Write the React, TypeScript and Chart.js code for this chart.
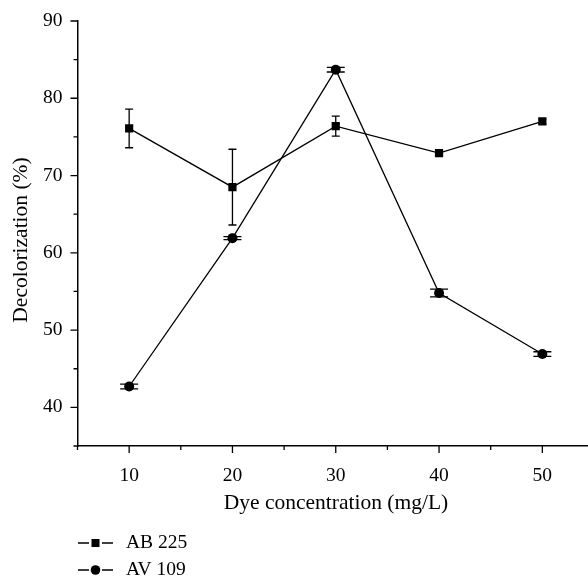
import React, { useEffect, useRef } from "react";
import { Chart, registerables } from "chart.js";

Chart.register(...registerables);

const X_VALUES = [10, 20, 30, 40, 50];
const AB225 = [76.1, 68.5, 76.4, 72.9, 77.0];
const AB225_ERR = [2.5, 4.9, 1.3, 0.3, 0.3];
const AV109 = [42.7, 61.9, 83.7, 54.8, 46.9];
const AV109_ERR = [0.3, 0.2, 0.3, 0.5, 0.3];
const X_TICKS = [10, 20, 30, 40, 50];
const X_MINOR = [5, 15, 25, 35, 45, 55];
const Y_TICKS = [40, 50, 60, 70, 80, 90];
const Y_MINOR = [35, 45, 55, 65, 75, 85];
const X_TITLE = "Dye concentration (mg/L)";
const Y_TITLE = "Decolorization (%)";
const SERIES_LABELS = ["AB 225", "AV 109"];

const FONT = "'Liberation Serif', 'Times New Roman', serif";

const decorPlugin = {
  id: "decor",
  beforeDatasetsDraw(chart: any) {
    const ctx = chart.ctx;
    const xs = chart.scales.x;
    const ys = chart.scales.y;
    const errs = [AB225_ERR, AV109_ERR];
    const caps = [4, 9];
    ctx.save();
    ctx.strokeStyle = "#000";
    ctx.lineWidth = 1.3;
    chart.data.datasets.forEach((ds: any, di: number) => {
      ds.data.forEach((p: any, i: number) => {
        const e = errs[di][i];
        const px = xs.getPixelForValue(p.x);
        const top = ys.getPixelForValue(p.y + e);
        const bot = ys.getPixelForValue(p.y - e);
        const c = caps[di];
        ctx.beginPath();
        ctx.moveTo(px, top);
        ctx.lineTo(px, bot);
        ctx.moveTo(px - c, top);
        ctx.lineTo(px + c, top);
        ctx.moveTo(px - c, bot);
        ctx.lineTo(px + c, bot);
        ctx.stroke();
      });
    });
    ctx.restore();
  },
  afterDraw(chart: any) {
    const ctx = chart.ctx;
    const xs = chart.scales.x;
    const ys = chart.scales.y;
    const area = chart.chartArea;
    ctx.save();
    ctx.strokeStyle = "#000";
    ctx.lineWidth = 1.3;
    ctx.beginPath();
    X_TICKS.forEach((v) => {
      const px = xs.getPixelForValue(v);
      ctx.moveTo(px, area.bottom);
      ctx.lineTo(px, area.bottom + 7);
    });
    X_MINOR.forEach((v) => {
      const px = xs.getPixelForValue(v);
      ctx.moveTo(px, area.bottom);
      ctx.lineTo(px, area.bottom + 4);
    });
    Y_TICKS.forEach((v) => {
      const py = ys.getPixelForValue(v);
      ctx.moveTo(area.left, py);
      ctx.lineTo(area.left - 7, py);
    });
    Y_MINOR.forEach((v) => {
      const py = ys.getPixelForValue(v);
      ctx.moveTo(area.left, py);
      ctx.lineTo(area.left - 4, py);
    });
    ctx.stroke();

    // axis titles
    ctx.fillStyle = "#000";
    ctx.font = `21.5px ${FONT}`;
    ctx.textAlign = "center";
    ctx.textBaseline = "middle";
    ctx.fillText(X_TITLE, 336, 503);
    ctx.save();
    ctx.translate(21, 240);
    ctx.rotate(-Math.PI / 2);
    ctx.fillText(Y_TITLE, 0, 0);
    ctx.restore();

    // legend
    const rows = [543, 570];
    chart.data.datasets.forEach((ds: any, i: number) => {
      const y = rows[i];
      ctx.beginPath();
      ctx.lineWidth = 1.3;
      ctx.moveTo(78, y);
      ctx.lineTo(89, y);
      ctx.moveTo(102, y);
      ctx.lineTo(113, y);
      ctx.stroke();
      ctx.fillStyle = "#000";
      if (i === 0) {
        ctx.fillRect(95.5 - 4, y - 4, 8, 8);
      } else {
        ctx.beginPath();
        ctx.arc(95.5, y, 4.8, 0, Math.PI * 2);
        ctx.fill();
      }
      ctx.font = `19.5px ${FONT}`;
      ctx.textAlign = "left";
      ctx.textBaseline = "middle";
      ctx.fillText(ds.label, 126, y);
    });
    ctx.restore();
  },
};

export default function App() {
  const ref = useRef<HTMLCanvasElement>(null);
  useEffect(() => {
    if (!ref.current) return;
    const chart = new Chart(ref.current, {
      type: "line",
      data: {
        datasets: [
          {
            label: SERIES_LABELS[0],
            data: X_VALUES.map((x, i) => ({ x, y: AB225[i] })),
            borderColor: "#000",
            backgroundColor: "#000",
            borderWidth: 1.3,
            pointStyle: "rect",
            pointRadius: 5.8,
            pointBorderWidth: 0,
            tension: 0,
          },
          {
            label: SERIES_LABELS[1],
            data: X_VALUES.map((x, i) => ({ x, y: AV109[i] })),
            borderColor: "#000",
            backgroundColor: "#000",
            borderWidth: 1.3,
            pointStyle: "circle",
            pointRadius: 5,
            pointBorderWidth: 0,
            tension: 0,
          },
        ],
      },
      options: {
        animation: false,
        responsive: false,
        layout: { padding: { left: 0, right: 6, top: 21, bottom: 0 } },
        plugins: {
          legend: { display: false },
          tooltip: { enabled: false },
        },
        scales: {
          x: {
            type: "linear",
            min: 5,
            max: 55,
            afterBuildTicks: (s: any) => {
              s.ticks = X_TICKS.map((v) => ({ value: v }));
            },
            afterFit: (s: any) => {
              s.height = 132;
            },
            grid: { display: false },
            border: { display: true, color: "#000", width: 1.5 },
            ticks: {
              font: { family: FONT, size: 19.5 },
              color: "#000",
              padding: 10,
              maxRotation: 0,
            },
          },
          y: {
            type: "linear",
            min: 35,
            max: 90,
            afterBuildTicks: (s: any) => {
              s.ticks = Y_TICKS.map((v) => ({ value: v }));
            },
            afterFit: (s: any) => {
              s.width = 77.5;
            },
            grid: { display: false },
            border: { display: true, color: "#000", width: 1.5 },
            ticks: {
              font: { family: FONT, size: 19.5 },
              color: "#000",
              padding: 7,
            },
          },
        },
      },
      plugins: [decorPlugin],
    } as any);
    return () => chart.destroy();
  }, []);
  return (
    <div
      style={{
        position: "absolute",
        left: 0,
        top: 0,
        width: 588,
        height: 578,
        overflow: "hidden",
        background: "#fff",
      }}
    >
      <canvas ref={ref} width={600} height={578} style={{ width: 600, height: 578, display: "block" }} />
    </div>
  );
}
